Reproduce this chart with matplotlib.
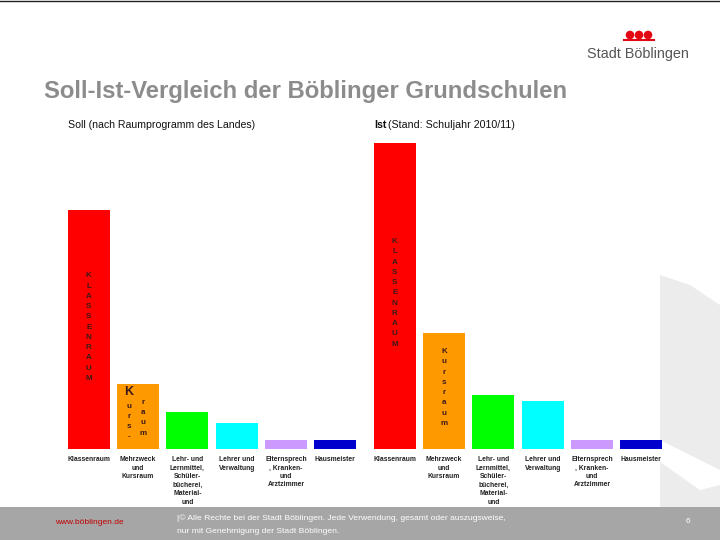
import matplotlib
matplotlib.use("Agg")
import matplotlib.pyplot as plt
from matplotlib.patches import Polygon, Circle, Rectangle

plt.rcParams["font.family"] = ["Liberation Sans", "DejaVu Sans"]

W, H = 720, 540

# data (bar heights in pixel units)
categories = [
    "Klassenraum",
    "Mehrzweck\nund\nKursraum",
    "Lehr- und\nLernmittel,\nSchüler-\nbücherei,\nMaterial-\nund",
    "Lehrer und\nVerwaltung",
    "Elternsprech\n, Kranken-\nund\nArztzimmer",
    "Hausmeister",
]
soll = [239, 65, 37, 26, 9, 9]
ist = [306, 116, 54, 48, 9, 9]
colors = ["#ff0000", "#ff9900", "#00ff00", "#00ffff", "#cc99ff", "#0000cc"]
y_max = 309


def fx(x):
    return x / W


def fy(y):
    return 1 - y / H


fig = plt.figure(figsize=(7.2, 5.4), dpi=100)

# background decoration on the right side
deco = fig.add_axes([0, 0, 1, 1])
deco.set_xlim(0, W)
deco.set_ylim(H, 0)
deco.axis("off")
deco.add_patch(Polygon([(660, 275), (690, 285), (720, 305), (720, 507), (660, 507)],
                       closed=True, color="#ececec", lw=0))
deco.add_patch(Polygon([(660, 440), (720, 470), (720, 485), (700, 490), (660, 462)],
                       closed=True, color="white", lw=0))
deco.add_patch(Rectangle((0, 507), W, 33, color="#a6a6a6", lw=0))
deco.plot([0, W], [0.5, 0.5], color="#222222", lw=1)

# logo
for cx in (630, 639, 648):
    deco.add_patch(Circle((cx, 35), 4.3, color="#e30613", lw=0))
deco.plot([624, 654], [40, 40], color="#e30613", lw=1.5)
deco.text(587, 58, "Stadt Böblingen", fontsize=10.4, color="#555555", va="baseline")

# title
deco.text(44, 98, "Soll-Ist-Vergleich der Böblinger Grundschulen", fontsize=17.2,
          fontweight="bold", color="#8c8c8c", va="baseline")

# group headings
deco.text(68, 128, "Soll (nach Raumprogramm des Landes)", fontsize=7.6, color="#111111",
          va="baseline")
deco.text(374, 128, "Ist", fontsize=7.7, fontweight="bold", color="#111111", va="baseline")
deco.text(388, 128, "(Stand: Schuljahr 2010/11)", fontsize=7.7, color="#111111", va="baseline")

# footer
deco.text(55, 524, "www.böblingen.de", fontsize=6, color="#c00000", va="baseline")
deco.text(177, 520, "|© Alle Rechte bei der Stadt Böblingen. Jede Verwendung, gesamt oder auszugsweise,",
          fontsize=6.1, color="white", va="baseline")
deco.text(177, 533, "nur mit Genehmigung der Stadt Böblingen.", fontsize=6.1, color="white",
          va="baseline")
deco.text(686, 523, "6", fontsize=6, color="white", va="baseline")


def draw_group(left_px, values):
    ax = fig.add_axes([fx(left_px), fy(449), 296 / W, y_max / H])
    ax.set_zorder(2)
    ax.patch.set_alpha(0)
    xs = list(range(len(values)))
    ax.bar(xs, values, width=0.85, color=colors)
    ax.set_xlim(-0.5, len(values) - 0.5)
    ax.set_ylim(0, y_max)
    ax.axis("off")
    for i, label in enumerate(categories):
        ax.text(i, -7, label, ha="center", va="top", fontsize=4.9, fontweight="bold",
                color="#222222", linespacing=1.3)
    return ax


ax_soll = draw_group(64, soll)
ax_ist = draw_group(370, ist)

letter_kw = dict(ha="center", va="center", fontsize=5.8, color="#3a1a1a", linespacing=1.65,
                 fontweight="bold")
ax_soll.text(0, soll[0] * 0.51, "\n".join("KLASSENRAUM"), **letter_kw)
ax_ist.text(0, ist[0] * 0.51, "\n".join("KLASSENRAUM"), **letter_kw)
ax_ist.text(1, ist[1] * 0.53, "\n".join("Kursraum"), **letter_kw)
ax_soll.text(0.8, soll[1] - 8, "K", ha="center", va="center", fontsize=9, fontweight="bold",
             color="#3a1a1a")
ax_soll.text(0.82, soll[1] * 0.42, "\n".join("urs-"), **letter_kw)
ax_soll.text(1.1, soll[1] * 0.48, "\n".join("raum"), **letter_kw)

fig.savefig("out.png", dpi=100)
